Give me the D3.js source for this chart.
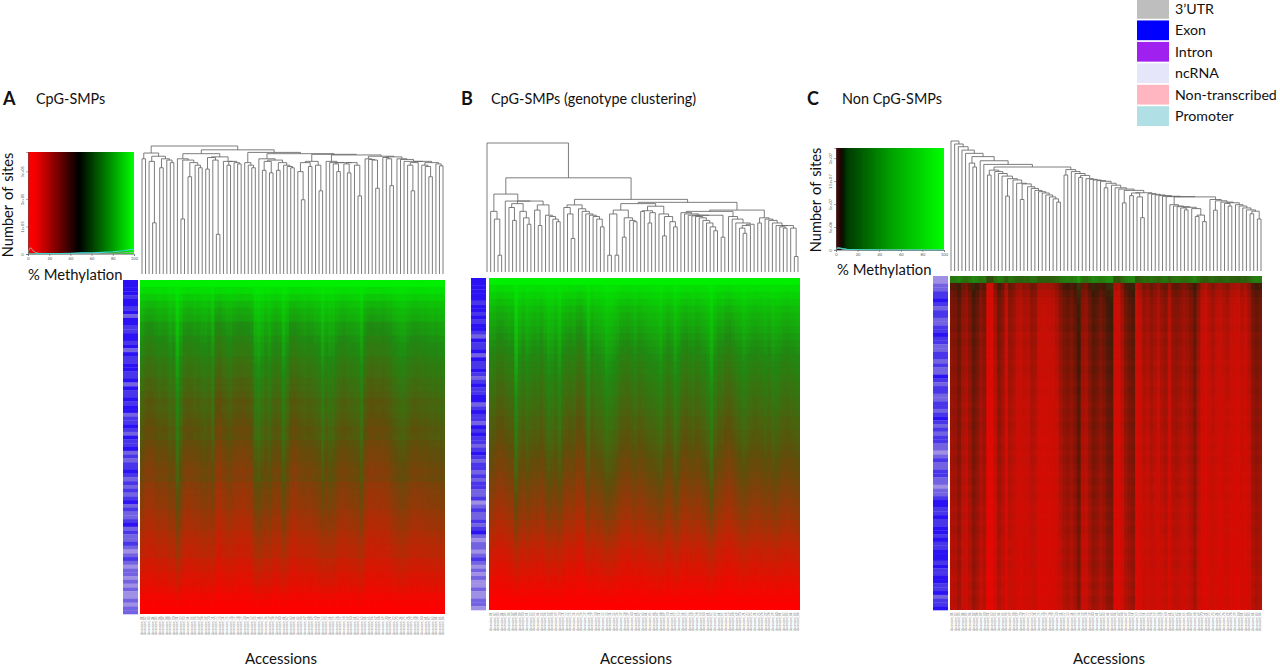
<!DOCTYPE html>
<html>
<head>
<meta charset="utf-8">
<script src="https://cdn.jsdelivr.net/npm/d3@7"></script>
<style>
  body { margin: 0; background: #fff; }
  text { font-family: Lato, sans-serif; fill: #111; }
</style>
</head>
<body>
<div id="chart"></div>
<script>
// Merge height between neighbouring leaves (0 = base, 100 = top)
const gapsA = [
  90, 94.5, 88, 40, 92, 83, 90, 89, 87, 100,
  90, 43, 89, 76, 87, 85, 83, 94, 82, 91,
  89, 31, 91.5, 88, 85, 88, 87, 86, 97, 87,
  85, 83, 95, 90, 81, 88, 79, 89, 81, 87,
  85, 84, 83, 94, 80, 58, 87, 84, 88, 85,
  65, 93.5, 88, 87, 86, 80, 87, 86, 79, 87,
  85, 61, 93, 90, 89.5, 89, 67, 92, 91, 90,
  69, 91.5, 90, 89.5, 88, 85, 65, 87, 88, 85,
  84, 76, 87, 86, 84.5
];
const gapsB = [
  100, 47, 41, 13, 60.4, 55, 50, 40, 53, 47,
  42, 37, 55, 48, 36, 52, 44, 43, 41, 39,
  73, 50, 45, 26, 52, 49, 47, 45, 44, 43,
  41, 35, 56.3, 13, 45, 13, 48, 27, 42, 40,
  39, 53, 47, 47.5, 38, 46, 51, 45, 28, 43,
  39, 35, 54, 46, 45, 44, 43.5, 43, 42, 40,
  38, 35, 32, 44, 27, 47, 43, 41, 38, 34,
  30, 36, 37, 48, 38, 42, 41, 40, 38, 36,
  35, 34, 36, 34, 12
];
const gapsC = [
  100, 97.7, 95.6, 93, 90.5, 83, 80, 88, 84.8, 82,
  73.8, 77.6, 76.5, 75, 73, 57.6, 71, 70, 67.5, 55,
  67, 64.8, 63.5, 62, 61, 60, 58.5, 57, 55.5, 53,
  80, 73.8, 78, 76.5, 75, 72, 73.5, 71, 70.5, 70,
  69.5, 69, 64, 67.5, 66, 64, 63, 52.4, 62, 58,
  60, 57, 41, 60.2, 59.5, 59, 58.5, 58, 57.5, 57.2,
  51, 50, 49.5, 48.5, 47, 49, 48, 42, 43, 38,
  57, 55, 46.8, 54, 53, 52, 50, 52.5, 51, 50,
  48.5, 47, 44, 46, 40
];

// Heatmap: mean methylation of each row band, top to bottom
const rowsA = [
  100, 96, 92, 88, 85, 83, 79, 78, 75, 73, 72, 69, 67, 66, 63, 62,
  60, 57, 58, 56, 54, 52, 53, 50, 48, 47, 45, 43, 44, 40, 38, 37,
  36, 33, 31, 30, 27, 25, 23, 22, 18, 16, 13, 11, 8, 5, 2, 0
];
const rowsB = [
  100, 96, 93, 90, 87, 85, 83, 81, 79, 77, 75, 73, 71, 70, 68, 66,
  65, 63, 62, 60, 58, 57, 55, 54, 52, 50, 48, 47, 45, 43, 41, 39,
  37, 35, 33, 30, 28, 25, 22, 19, 17, 14, 12, 9, 7, 4, 2, 0
];
const rowsC = [
  80, 36, 33, 31, 30, 30, 29, 30, 28, 29, 28, 28, 27, 28, 27, 26,
  27, 26, 25, 26, 25, 26, 25, 24, 25, 24, 25, 24, 23, 24, 23, 24,
  23, 22, 23, 22, 23, 22, 21, 22, 21, 22, 21, 20, 21, 20, 21, 20
];

// Heatmap: how far each accession's column sits from the row mean
const colsA = [
  2, -4, -7, -6, -3, 0, -2, -1, 6, 3,
  20, 8, -2, -4, -3, 0, -2, 2, 3, 0,
  9, -9, -11, -6, -2, -1, -5, -7, -8, -7,
  -6, -3, 12, 15, 10, 5, 9, 2, 0, 3,
  14, 6, -5, -6, -4, -1, 1, -2, 0, 3,
  4, 14, 6, 9, 8, 3, 0, -2, 1, 2,
  3, 5, 12, -3, -8, -9, -7, -6, -8, -5,
  -3, 1, 4, 6, 7, 3, 0, -2, -1, 1,
  0, 2, 3, 2, 4, 5
];
const colsB = [
  -1, -3, -8, -9, -5, -2, -3, 18, 5, -1,
  6, 2, -1, 1, -3, 3, 9, 7, 2, 11,
  0, -3, -5, -2, -9, -10, -4, 10, -2, 2,
  3, 6, 12, 10, 7, 3, -3, -4, -5, -2,
  2, -4, -1, 1, 3, 4, 6, 10, 3, -2,
  1, 10, 4, -3, -5, -2, 0, -4, -1, 2,
  5, 15, 4, -3, -2, -7, -9, -4, 0, 1,
  7, 3, 0, -2, -1, 1, 3, 0, 6, 4,
  2, -1, -2, 0, 1, 3
];
const colsC = [
  8, 9, 14, 5, 3, 8, 16, 12, 6, 9,
  -12, -13, 2, 10, 6, -4, 5, 3, -2, -3,
  0, -1, 4, 3, -4, -5, -5, -4, -3, 0,
  6, 10, 12, 9, 14, 22, 6, 4, 10, 16,
  14, 10, 13, 18, 20, -6, -7, 2, 10, 14,
  16, -6, -3, 3, 1, 5, 2, -1, 4, 6,
  -2, 6, 7, 5, 2, 4, 8, 13, 4, -4,
  -6, -2, 1, -3, -4, -2, 0, -4, -5, -6,
  -2, -4, 1, 9, 12, 10
];

// Annotation strip next to each heatmap: E strong blue ... P pale purple
const sideA = "EEEEMEEMELEEMMEEMELEMMEEMMELEMMEMEELMMEMLEMMELMLMMEMLMLMLMELMLLMELMLLMLPLMLPLLPLPLPPLPLL".split("");
const sideB = "EEEEEEMEEMEMEEMLEMMELEMMEMLMEMMEELMEMMLEMEMMLMEMLMMLMLMMLLMPLMLLMLMELPLLPLMLPLPLPPLPPLLP".split("");
const sideC = "PPLLMMEMLMMLLMMEMMLLMMLMLLEMLMMLLMMLMEMLMLMMLLPLMLLMMLLPLLMEEMMEMMEEMEMMEEEMEMMEEMMELMME".split("");
const sideCodes = ["E", "M", "L", "P"];
const sideColors = ["#2a12f4", "#4a36ea", "#7362e2", "#9f90e6"];

// Legend
const legendLabels = ["3’UTR", "Exon", "Intron", "ncRNA", "Non-transcribed", "Promoter"];
const legendColors = ["#bebebe", "#0000ff", "#a020f0", "#e6e6fa", "#ffb6c1", "#b0e0e6"];

// Density insets
const densityXA = [0, 1, 2, 3, 4, 5, 7, 10, 20, 30, 40, 50, 60, 70, 80, 90, 95, 100];
const grayA = [3000, 15000, 22000, 21000, 16000, 11000, 6000, 2500, 1200, 1000, 1200, 2500, 1800, 2500, 3000, 4000, 5000, 5000];
const cyanA = [500, 800, 1000, 1000, 1000, 1000, 1000, 1200, 1500, 1800, 2500, 4000, 4500, 6000, 8000, 12000, 15000, 17000];
const densityXC = [0, 1, 2, 4, 6, 8, 10, 15, 20, 30, 50, 100];
const grayC = [100000, 350000, 400000, 320000, 200000, 150000, 100000, 50000, 30000, 15000, 10000, 5000];
const cyanC = [150000, 450000, 500000, 420000, 300000, 250000, 170000, 100000, 50000, 25000, 10000, 5000];
const densityTicksX = [0, 20, 40, 60, 80, 100];
const ticksYA = [0, 100000, 200000, 300000];
const tickLabelsYA = ["0", "1e+05", "2e+05", "3e+05"];
const ticksYC = [0, 5000000, 10000000, 15000000, 20000000];
const tickLabelsYC = ["0", "5e+06", "1e+07", "1.5e+07", "2e+07"];

// Tick labels are too small to read in the source, these stand in for them
const accessions = d3.range(1, 87).map(i => "Accession_" + d3.format("02")(i));

const svg = d3.select("#chart").append("svg")
  .attr("width", 1280)
  .attr("height", 667)
  .style("display", "block");

const heatScale = d3.scaleLinear()
  .domain([0, 25, 50, 75, 100])
  .range(["#ff0000", "#b52a05", "#5e4f0c", "#1f8a12", "#00ee00"])
  .clamp(true);
const heatScaleC = d3.scaleLinear()
  .domain([0, 25, 50, 100])
  .range(["#ff0000", "#c41006", "#3c1a08", "#1f9a12"])
  .clamp(true);
const sideScale = d3.scaleOrdinal().domain(sideCodes).range(sideColors);

function buildTree(gaps, lo, hi) {
  if (lo === hi) return { h: 0, leaf: lo };
  let cut = lo;
  for (let i = lo; i < hi; i++) if (gaps[i] > gaps[cut]) cut = i;
  return {
    h: gaps[cut],
    left: buildTree(gaps, lo, cut),
    right: buildTree(gaps, cut + 1, hi)
  };
}

function drawDendrogram(p) {
  const x = d3.scalePoint().domain(d3.range(p.gaps.length + 1)).range([p.treeX0, p.treeX1]);
  const y = d3.scaleLinear().domain([0, 100]).range([p.treeBase, p.treeTop]);
  const segs = [];
  function walk(n) {
    if (n.leaf !== undefined) { n.x = x(n.leaf); return; }
    walk(n.left);
    walk(n.right);
    n.x = (n.left.x + n.right.x) / 2;
    segs.push(`M${n.left.x},${y(n.left.h)}V${y(n.h)}H${n.right.x}V${y(n.right.h)}`);
  }
  walk(buildTree(p.gaps, 0, p.gaps.length));
  svg.append("g").selectAll("path")
    .data(segs)
    .join("path")
      .attr("d", d => d)
      .attr("fill", "none")
      .attr("stroke", "#666")
      .attr("stroke-width", 0.85);
}

function drawHeatmap(p) {
  const x = d3.scaleBand().domain(d3.range(p.cols.length)).range([p.heatX0, p.heatX1]);
  const y = d3.scaleBand().domain(d3.range(p.rows.length)).range([p.heatY0, p.heatY1]);
  const cells = [];
  p.rows.forEach((m, r) => {
    const weight = 4 * (m / 100) * (1 - m / 100);
    p.cols.forEach((shift, c) => cells.push({ r, c, v: m + shift * weight * p.gain }));
  });
  svg.append("g").selectAll("rect")
    .data(cells)
    .join("rect")
      .attr("x", d => x(d.c))
      .attr("y", d => y(d.r))
      .attr("width", d => d.c === p.cols.length - 1 ? x.bandwidth() : x.bandwidth() + 1)
      .attr("height", d => d.r === p.rows.length - 1 ? y.bandwidth() : y.bandwidth() + 1)
      .attr("fill", d => p.color(d.v));

  const sy = d3.scaleBand().domain(d3.range(p.side.length)).range([p.heatY0, p.heatY1]);
  svg.append("g").selectAll("rect")
    .data(p.side)
    .join("rect")
      .attr("x", p.sideX0)
      .attr("y", (d, i) => sy(i))
      .attr("width", p.sideX1 - p.sideX0)
      .attr("height", sy.bandwidth() + 0.3)
      .attr("fill", d => sideScale(d));

  // accession labels under the heatmap
  const axis = svg.append("g")
    .attr("transform", `translate(0,${p.heatY1})`)
    .call(d3.axisBottom(d3.scaleBand().domain(accessions).range([p.heatX0, p.heatX1])).tickSize(0).tickPadding(2));
  axis.select(".domain").remove();
  axis.selectAll("text")
    .attr("transform", "rotate(-90)")
    .attr("x", -2.5)
    .attr("y", 0)
    .attr("dy", "0.35em")
    .attr("text-anchor", "end")
    .style("font-size", "3.1px")
    .style("fill", "#8a8a8a");

  svg.append("text")
    .attr("x", p.accX).attr("y", 664)
    .attr("text-anchor", "middle")
    .style("font-size", "15px")
    .text("Accessions");
}

function drawInset(p) {
  const x = d3.scaleLinear().domain([0, 100]).range([p.box[0], p.box[1]]);
  const y = d3.scaleLinear().domain([0, p.yMax]).range([p.box[3], p.box[2]]);
  svg.append("g").selectAll("rect")
    .data(d3.range(0, 100))
    .join("rect")
      .attr("x", d => x(d))
      .attr("y", p.box[2])
      .attr("width", d => d === 99 ? x(1) - x(0) : x(1) - x(0) + 1)
      .attr("height", p.box[3] - p.box[2])
      .attr("fill", d => p.key(d + 0.5));

  const line = d3.line().x(d => x(d[0])).y(d => y(d[1]));
  svg.append("path")
    .attr("d", line(d3.zip(p.densX, p.gray)))
    .attr("fill", "none").attr("stroke", "#a9a9a9").attr("stroke-width", 1);
  svg.append("path")
    .attr("d", line(d3.zip(p.densX, p.cyan)))
    .attr("fill", "none").attr("stroke", "#3fd8d0").attr("stroke-width", 1.1);

  const ax = svg.append("g")
    .attr("transform", `translate(0,${p.box[3]})`)
    .call(d3.axisBottom(x).tickValues(densityTicksX).tickSize(2).tickPadding(1));
  const ay = svg.append("g")
    .attr("transform", `translate(${p.box[0]},0)`)
    .call(d3.axisLeft(y).tickValues(p.ticks).tickFormat((d, i) => p.tickLabels[i]).tickSize(2).tickPadding(1));
  ax.selectAll("line,path").attr("stroke", "#555").attr("stroke-width", 0.5);
  ay.selectAll("line,path").attr("stroke", "#555").attr("stroke-width", 0.5);
  ax.selectAll("text").style("font-size", "4px").style("fill", "#555");
  ay.selectAll("text")
    .style("font-size", "4px").style("fill", "#555")
    .attr("text-anchor", "middle")
    .attr("transform", "rotate(-90)")
    .attr("x", 0)
    .attr("y", -4)
    .attr("dy", 0);

  svg.append("text")
    .attr("transform", `translate(${p.yLabelX},${p.yLabelY}) rotate(-90)`)
    .attr("text-anchor", "middle")
    .style("font-size", "14.6px")
    .style("word-spacing", "1.5px")
    .text("Number of sites");
  svg.append("text")
    .attr("x", p.xLabelX).attr("y", p.xLabelY)
    .style("font-size", "14.8px")
    .text("% Methylation");
}

const panels = [
  { gaps: gapsA, rows: rowsA, cols: colsA, side: sideA, color: heatScale, gain: 0.75,
    treeX0: 142, treeX1: 443, treeBase: 274, treeTop: 146,
    heatX0: 140, heatX1: 445, heatY0: 280, heatY1: 614, sideX0: 123, sideX1: 138, accX: 281 },
  { gaps: gapsB, rows: rowsB, cols: colsB, side: sideB, color: heatScale, gain: 0.75,
    treeX0: 487, treeX1: 798, treeBase: 272, treeTop: 143,
    heatX0: 489, heatX1: 800, heatY0: 278, heatY1: 610, sideX0: 471, sideX1: 486, accX: 636 },
  { gaps: gapsC, rows: rowsC, cols: colsC, side: sideC, color: heatScaleC, gain: 1.2,
    treeX0: 951, treeX1: 1261, treeBase: 271, treeTop: 141,
    heatX0: 950, heatX1: 1262, heatY0: 276, heatY1: 610, sideX0: 933, sideX1: 948, accX: 1109 }
];
panels.forEach(p => { drawDendrogram(p); drawHeatmap(p); });

drawInset({
  box: [28, 134, 152, 254], yMax: 370000, densX: densityXA, gray: grayA, cyan: cyanA,
  key: d3.scaleLinear().domain([0, 8, 48, 100]).range(["#ff0000", "#f00000", "#000000", "#00ff00"]),
  ticks: ticksYA, tickLabels: tickLabelsYA, yLabelX: 13, yLabelY: 205, xLabelX: 28, xLabelY: 280
});
drawInset({
  box: [836, 944, 148, 250], yMax: 22200000, densX: densityXC, gray: grayC, cyan: cyanC,
  key: d3.scaleLinear().domain([0, 4, 7, 10, 50, 100]).range(["#5a0a0a", "#200505", "#001a00", "#003a00", "#00a000", "#00ff00"]),
  ticks: ticksYC, tickLabels: tickLabelsYC, yLabelX: 821, yLabelY: 200, xLabelX: 837, xLabelY: 275
});

// Panel letters and titles
const letters = ["A", "B", "C"];
const letterX = [3, 461, 807];
const titles = ["CpG-SMPs", "CpG-SMPs (genotype clustering)", "Non CpG-SMPs"];
const titleX = [36, 491, 842];
letters.forEach((t, i) => {
  svg.append("text").attr("x", letterX[i]).attr("y", 105)
    .style("font-size", "18px").style("font-weight", "700").text(t);
  svg.append("text").attr("x", titleX[i]).attr("y", 104)
    .style("font-size", "14.4px").text(titles[i]);
});

// Legend
const ly = d3.scaleBand().domain(legendLabels).range([-1, 126]).paddingInner(0.08);
const legend = svg.append("g");
legend.selectAll("rect")
  .data(legendLabels)
  .join("rect")
    .attr("x", 1137)
    .attr("y", d => ly(d))
    .attr("width", 32)
    .attr("height", ly.bandwidth())
    .attr("fill", (d, i) => legendColors[i]);
legend.selectAll("text")
  .data(legendLabels)
  .join("text")
    .attr("x", 1175)
    .attr("y", d => ly(d) + ly.bandwidth() / 2)
    .attr("dy", "0.35em")
    .style("font-size", "14.2px")
    .text(d => d);
</script>
</body>
</html>
